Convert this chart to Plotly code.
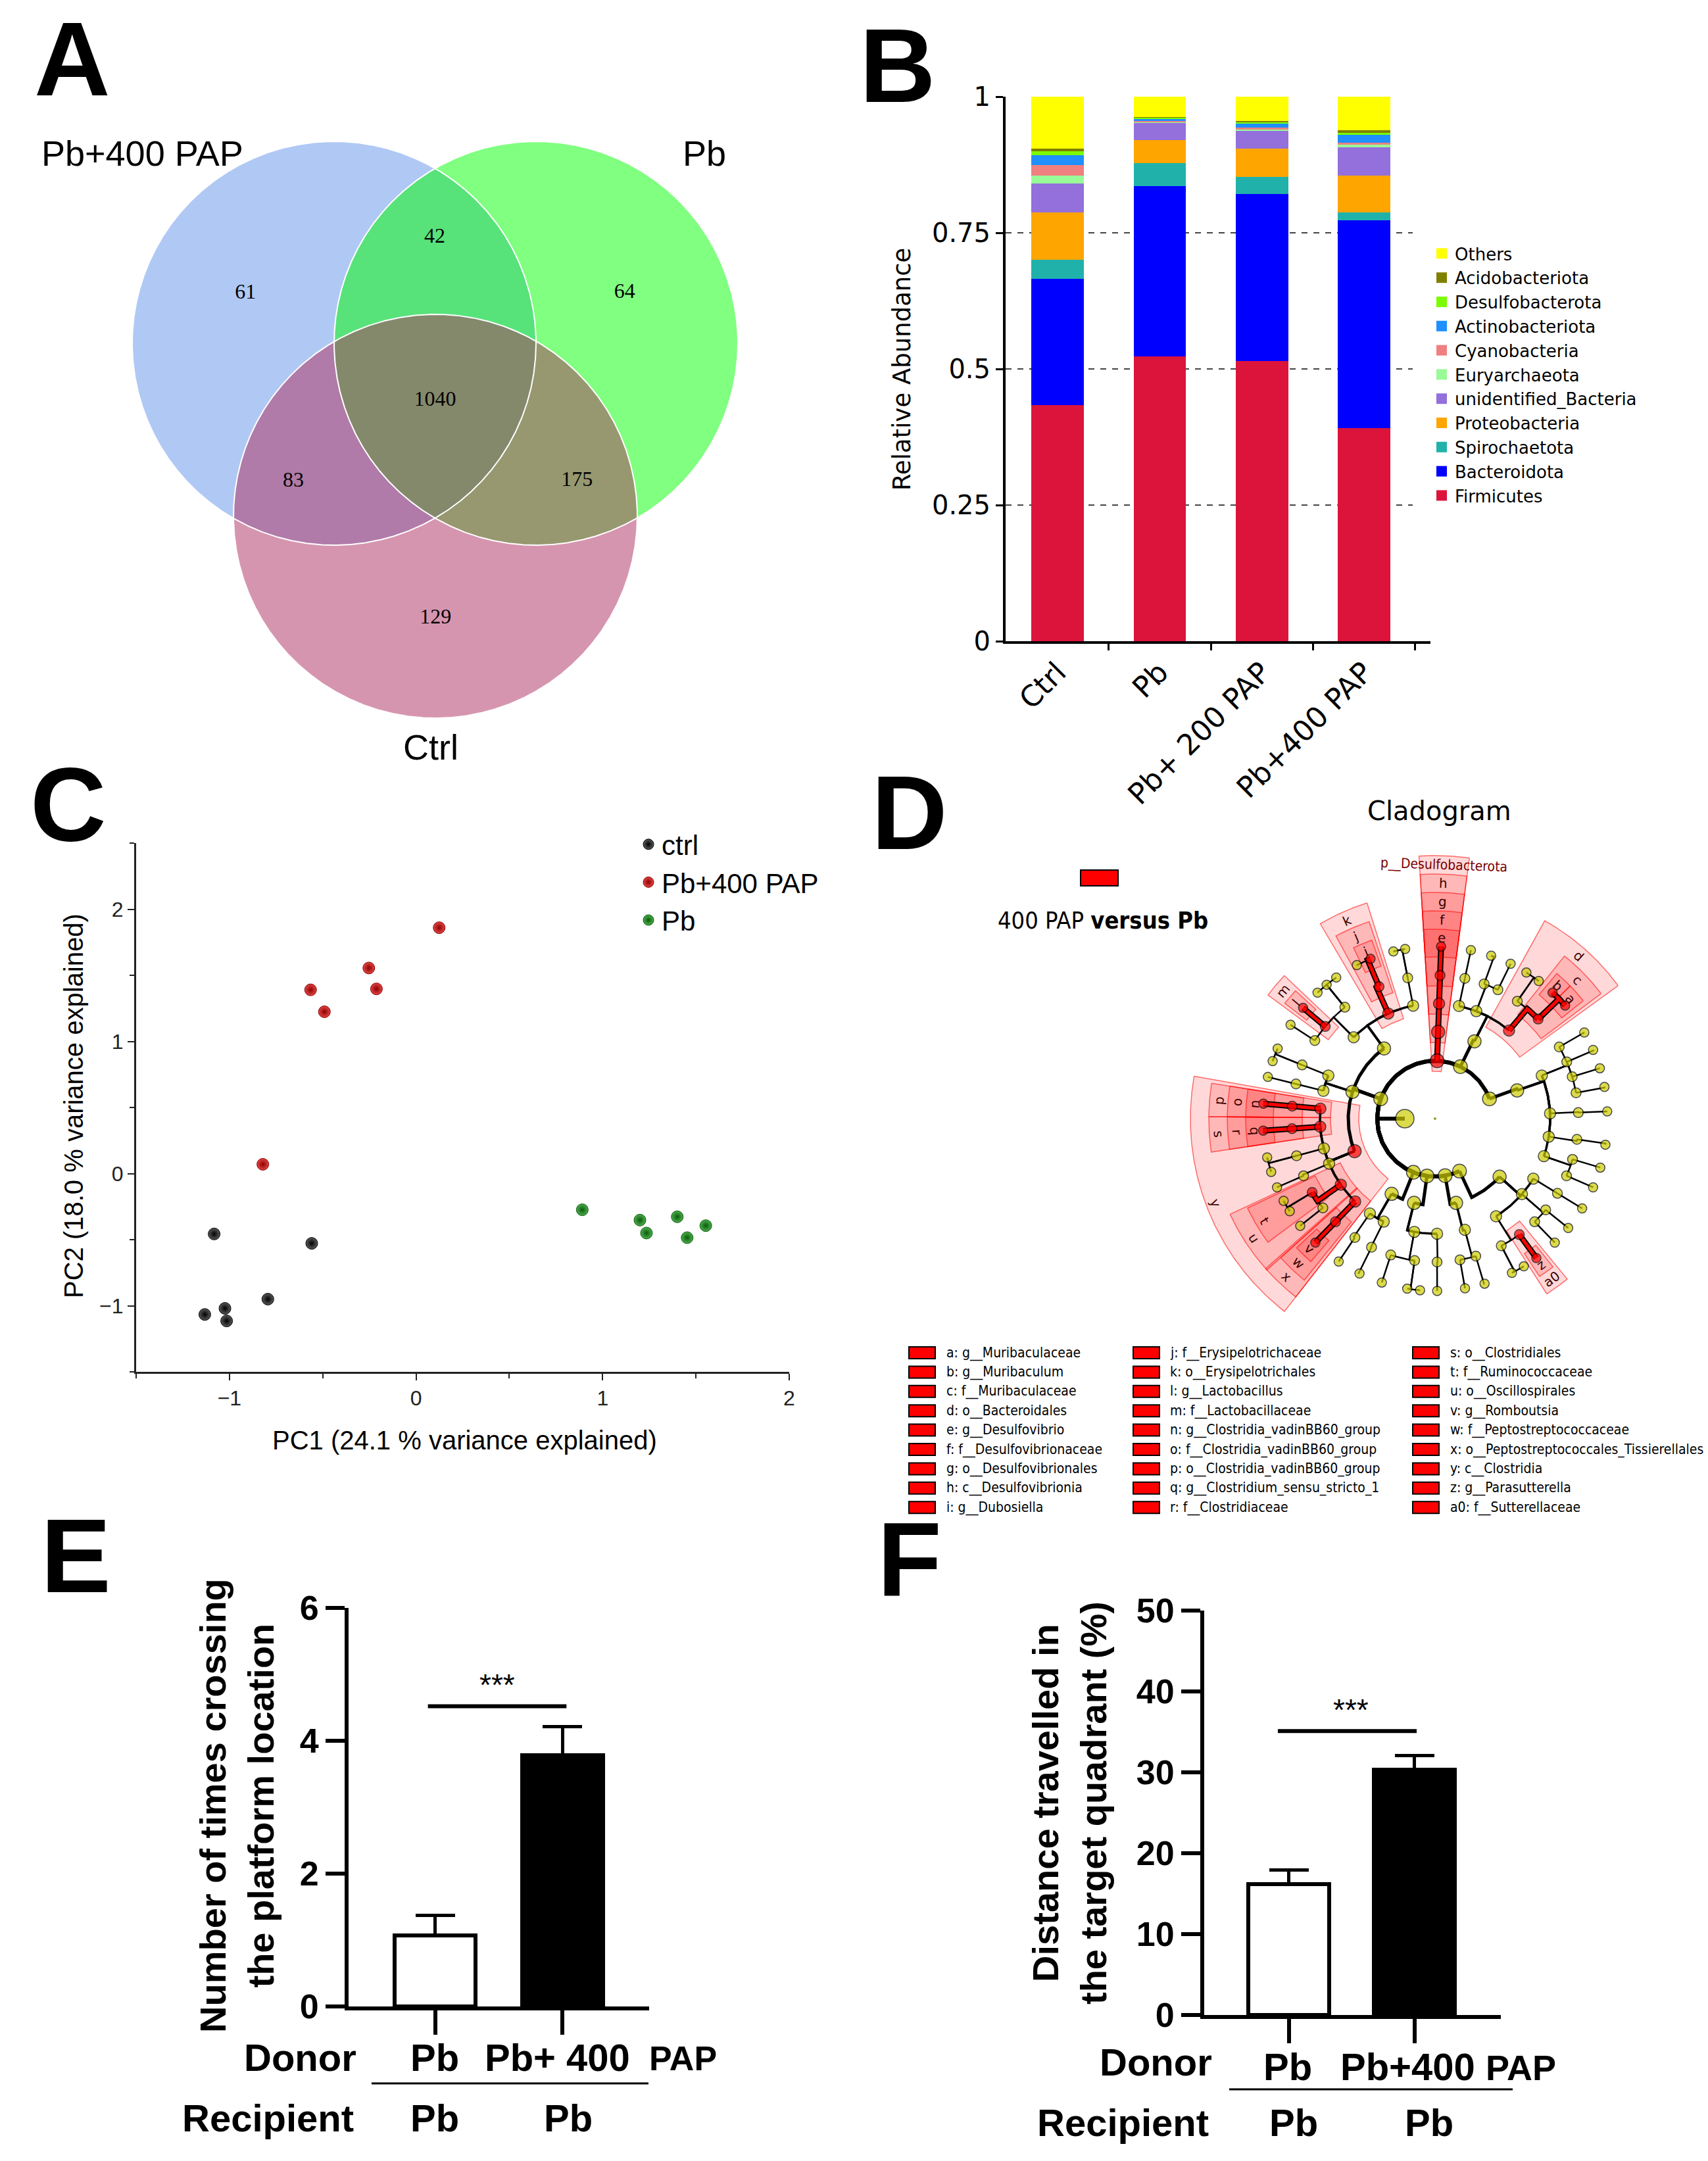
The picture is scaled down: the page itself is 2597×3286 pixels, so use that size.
import numpy as np
import plotly.graph_objects as go

W, H = 2597, 3286
ARIAL = "Liberation Sans, Arial, sans-serif"
DEJAVU = "DejaVu Sans, Verdana, sans-serif"
NARROW = "Liberation Sans Narrow, DejaVu Sans Condensed, Liberation Sans, sans-serif"
TIMES = "Liberation Serif, Times New Roman, serif"

# ======================= DATA =======================
# --- A: Venn ---
VENN_SET_NAMES = ["Pb+400 PAP", "Pb", "Ctrl"]
VENN_REGIONS = ["100", "010", "001", "110", "101", "011", "111"]
VENN_COUNTS = [61, 64, 129, 42, 83, 175, 1040]

# --- B: relative abundance (phylum) ---
B_GROUPS = ["Ctrl", "Pb", "Pb+ 200 PAP", "Pb+400 PAP"]
PHYLA = ["Firmicutes", "Bacteroidota", "Spirochaetota", "Proteobacteria",
         "unidentified_Bacteria", "Euryarchaeota", "Cyanobacteria",
         "Actinobacteriota", "Desulfobacterota", "Acidobacteriota", "Others"]
FIRMICUTES = [0.434, 0.523, 0.515, 0.391]
BACTEROIDOTA = [0.232, 0.313, 0.306, 0.382]
SPIROCHAETOTA = [0.034, 0.042, 0.032, 0.015]
PROTEOBACTERIA = [0.087, 0.042, 0.051, 0.067]
UNIDENTIFIED_BACTERIA = [0.054, 0.032, 0.034, 0.052]
EURYARCHAEOTA = [0.014, 0.002, 0.002, 0.005]
CYANOBACTERIA = [0.019, 0.001, 0.003, 0.004]
ACTINOBACTERIOTA = [0.019, 0.005, 0.008, 0.014]
DESULFOBACTEROTA = [0.007, 0.002, 0.002, 0.004]
ACIDOBACTERIOTA = [0.005, 0.001, 0.002, 0.005]
OTHERS = [0.095, 0.037, 0.045, 0.061]
B_VALUES = [FIRMICUTES, BACTEROIDOTA, SPIROCHAETOTA, PROTEOBACTERIA,
            UNIDENTIFIED_BACTERIA, EURYARCHAEOTA, CYANOBACTERIA,
            ACTINOBACTERIOTA, DESULFOBACTEROTA, ACIDOBACTERIOTA, OTHERS]
B_TICKS = [0, 0.25, 0.5, 0.75, 1]
B_TICKTEXT = ["0", "0.25", "0.5", "0.75", "1"]
B_GRID = [0.25, 0.5, 0.75]

# --- C: PCA ---
C_NAMES = ["ctrl", "Pb+400 PAP", "Pb"]
C_CTRL_X = [-1.082, -0.559, -0.794, -1.132, -1.024, -1.015]
C_CTRL_Y = [-0.457, -0.528, -0.950, -1.066, -1.020, -1.115]
C_PAP_X = [0.124, -0.253, -0.212, -0.565, -0.491, -0.821]
C_PAP_Y = [1.860, 1.555, 1.397, 1.390, 1.224, 0.070]
C_PB_X = [0.891, 1.200, 1.235, 1.400, 1.553, 1.453]
C_PB_Y = [-0.274, -0.352, -0.450, -0.327, -0.394, -0.485]
C_XTICKS = [-1, 0, 1, 2]
C_YTICKS = [-1, 0, 1, 2]

# --- D: LEfSe cladogram (key, parent, level, angle_deg, significant) ---
TREE_ROOT = [("k__Bacteria", None, 1, 180, 0)]
TREE_DESULFO = [
    ("p__Desulfobacterota", "k__Bacteria", 2, 88, 1),
    ("h", "p__Desulfobacterota", 3, 88, 1),
    ("g", "h", 4, 88, 1),
    ("f", "g", 5, 88, 1),
    ("e", "f", 6, 88, 1)]
TREE_BACTEROIDOTA = [
    ("p_bac", "k__Bacteria", 2, 64, 0),
    ("c_bac", "p_bac", 3, 63, 0),
    ("d", "c_bac", 4, 50, 1),
    ("c", "d", 5, 44, 1),
    ("a", "c", 6, 41, 1),
    ("b", "c", 6, 47, 1),
    ("f_bac2", "d", 5, 55, 0),
    ("g_bac2a", "f_bac2", 6, 53, 0),
    ("g_bac2b", "f_bac2", 6, 58, 0),
    ("o_bac2", "c_bac", 4, 69, 0),
    ("f_bac3", "o_bac2", 5, 64, 0),
    ("g_bac3", "f_bac3", 6, 64, 0),
    ("f_bac4", "o_bac2", 5, 70, 0),
    ("g_bac4", "f_bac4", 6, 71, 0),
    ("o_bac3", "c_bac", 4, 78, 0),
    ("f_bac5", "o_bac3", 5, 78, 0),
    ("g_bac5", "f_bac5", 6, 78, 0)]
TREE_FIRMICUTES = [
    ("p_fir", "k__Bacteria", 2, 160, 0),
    ("c_bacilli", "p_fir", 3, 126, 0),
    ("o_fir1", "c_bacilli", 4, 101, 0),
    ("f_fir1", "o_fir1", 5, 101, 0),
    ("g_fir1a", "f_fir1", 6, 100, 0),
    ("g_fir1b", "f_fir1", 6, 104, 0),
    ("k", "c_bacilli", 4, 114, 1),
    ("j", "k", 5, 113, 1),
    ("i", "j", 6, 112, 1),
    ("g_ery", "j", 6, 117, 0),
    ("o_lac", "c_bacilli", 4, 135, 0),
    ("f_lac2", "o_lac", 5, 129, 0),
    ("g_lac2a", "f_lac2", 6, 125, 0),
    ("g_lac2b", "f_lac2", 6, 129, 0),
    ("g_lac2c", "f_lac2", 6, 133, 0),
    ("m", "o_lac", 5, 140, 1),
    ("l", "m", 6, 140, 1),
    ("f_lac3", "o_lac", 5, 147, 0),
    ("g_lac3", "f_lac3", 6, 147, 0),
    ("c_fir2", "p_fir", 3, 162, 0),
    ("o_fir2", "c_fir2", 4, 158, 0),
    ("f_fir2", "o_fir2", 5, 158, 0),
    ("g_fir2a", "f_fir2", 6, 156, 0),
    ("g_fir2b", "f_fir2", 6, 160.5, 0),
    ("o_fir3", "c_fir2", 4, 166, 0),
    ("f_fir3", "o_fir3", 5, 166, 0),
    ("g_fir3", "f_fir3", 6, 166, 0),
    ("y", "p_fir", 3, 202, 1),
    ("p", "y", 4, 175, 1),
    ("o", "p", 5, 175, 1),
    ("n", "o", 6, 175, 1),
    ("s", "y", 4, 184, 1),
    ("r", "s", 5, 184, 1),
    ("q", "r", 6, 184, 1),
    ("o_cl3", "y", 4, 195, 0),
    ("f_cl3", "o_cl3", 5, 195, 0),
    ("g_cl3a", "f_cl3", 6, 193, 0),
    ("g_cl3b", "f_cl3", 6, 198, 0),
    ("o_cl4", "y", 4, 203, 0),
    ("f_cl4", "o_cl4", 5, 203.5, 0),
    ("g_cl4", "f_cl4", 6, 203.5, 0),
    ("u", "y", 4, 215, 1),
    ("t", "u", 5, 211, 1),
    ("g_t1", "t", 6, 208.5, 0),
    ("g_t2", "t", 6, 212.5, 0),
    ("f_osc", "u", 5, 218.5, 0),
    ("g_osc", "f_osc", 6, 218.5, 0),
    ("x", "y", 4, 226, 1),
    ("w", "x", 5, 226, 1),
    ("v", "w", 6, 226, 1)]
TREE_BOTTOM = [
    ("p_spi", "k__Bacteria", 2, 248, 0),
    ("c_spi", "p_spi", 3, 240, 0),
    ("o_spi1", "c_spi", 4, 235.5, 0),
    ("f_spi1", "o_spi1", 5, 236, 0),
    ("g_spi1", "f_spi1", 6, 236, 0),
    ("o_spi2", "c_spi", 4, 243.5, 0),
    ("f_spi2", "o_spi2", 5, 243.7, 0),
    ("g_spi2", "f_spi2", 6, 244, 0),
    ("p_cam", "k__Bacteria", 2, 262, 0),
    ("c_cam", "p_cam", 3, 256, 0),
    ("o_cam1", "c_cam", 4, 259.6, 0),
    ("f_cam1", "o_cam1", 5, 252, 0),
    ("g_cam1", "f_cam1", 6, 252, 0),
    ("f_cam2", "o_cam1", 5, 261.8, 0),
    ("g_cam2a", "f_cam2", 6, 260.7, 0),
    ("g_cam2b", "f_cam2", 6, 265, 0),
    ("o_cam2", "c_cam", 4, 271, 0),
    ("f_cam3", "o_cam2", 5, 270.8, 0),
    ("g_cam3", "f_cam3", 6, 270.7, 0),
    ("p_cya", "k__Bacteria", 2, 280, 0),
    ("c_cya", "p_cya", 3, 284, 0),
    ("o_cya", "c_cya", 4, 285, 0),
    ("f_cya1", "o_cya", 5, 280, 0),
    ("g_cya1", "f_cya1", 6, 280, 0),
    ("f_cya2", "o_cya", 5, 286.5, 0),
    ("g_cya2", "f_cya2", 6, 286.7, 0)]
TREE_PROTEO = [
    ("p_pro", "k__Bacteria", 2, 295, 0),
    ("c_pro", "p_pro", 3, 318, 0),
    ("o_pro1", "c_pro", 4, 302, 0),
    ("f_pro1", "o_pro1", 5, 297.5, 0),
    ("g_pro1a", "f_pro1", 6, 296.5, 0),
    ("g_pro1b", "f_pro1", 6, 301, 0),
    ("a0", "o_pro1", 5, 306, 1),
    ("z", "a0", 6, 306, 1),
    ("o_pro2", "c_pro", 4, 319, 0),
    ("f_pro2", "o_pro2", 5, 314, 0),
    ("g_pro2", "f_pro2", 6, 314, 0),
    ("f_pro3", "o_pro2", 5, 320.5, 0),
    ("g_pro3", "f_pro3", 6, 320.6, 0),
    ("o_pro3", "c_pro", 4, 328.6, 0),
    ("f_pro4", "o_pro3", 5, 328.6, 0),
    ("g_pro4", "f_pro4", 6, 328.6, 0)]
TREE_ACTINO = [
    ("p_act", "k__Bacteria", 2, 20, 0),
    ("c_act", "p_act", 3, 19, 0),
    ("o_act1", "c_act", 4, 22, 0),
    ("f_act1", "o_act1", 5, 30, 0),
    ("g_act1", "f_act1", 6, 30, 0),
    ("f_act2", "o_act1", 5, 23.3, 0),
    ("g_act2", "f_act2", 6, 23.5, 0),
    ("f_act3", "o_act1", 5, 17, 0),
    ("g_act3", "f_act3", 6, 17, 0),
    ("f_act4", "o_act1", 5, 10.4, 0),
    ("g_act4", "f_act4", 6, 10.6, 0),
    ("o_act2", "c_act", 4, 2.6, 0),
    ("f_act5", "o_act2", 5, 2.4, 0),
    ("g_act5", "f_act5", 6, 2.4, 0),
    ("o_act3", "c_act", 4, -9, 0),
    ("f_act6", "o_act3", 5, -8.3, 0),
    ("g_act6", "f_act6", 6, -8.7, 0),
    ("o_act4", "c_act", 4, -19, 0),
    ("f_act7", "o_act4", 5, -16.5, 0),
    ("g_act7", "f_act7", 6, -16.5, 0),
    ("f_act8", "o_act4", 5, -23.5, 0),
    ("g_act8", "f_act8", 6, -23.5, 0)]

# highlighted clades: key, angular extent (deg)
WEDGE_KEYS = ["p__Desulfobacterota", "h", "g", "f", "e",
              "d", "c", "b", "a", "k", "j", "i", "m", "l",
              "y", "p", "o", "n", "s", "r", "q", "u", "t", "x", "w", "v", "a0", "z"]
WEDGE_FROM = [82.5, 82.5, 82.5, 82.5, 82.5,
              36, 37, 44.5, 38.5, 107.5, 108.5, 109.5, 136.5, 137.5,
              170, 171, 171, 171, 179.5, 179.5, 179.5, 205, 205.5, 221.5, 222, 223, 302.5, 303.5]
WEDGE_TO = [93.5, 93.5, 93.5, 93.5, 93.5,
            61, 51.5, 50, 44.5, 120.5, 118.5, 115.5, 143.5, 142.5,
            232, 179.5, 179.5, 179.5, 188.5, 188.5, 188.5, 222, 216.5, 232, 231, 229, 309.5, 308.5]

D_LEGEND = ["a: g__Muribaculaceae", "b: g__Muribaculum", "c: f__Muribaculaceae",
            "d: o__Bacteroidales", "e: g__Desulfovibrio", "f: f__Desulfovibrionaceae",
            "g: o__Desulfovibrionales", "h: c__Desulfovibrionia", "i: g__Dubosiella",
            "j: f__Erysipelotrichaceae", "k: o__Erysipelotrichales", "l: g__Lactobacillus",
            "m: f__Lactobacillaceae", "n: g__Clostridia_vadinBB60_group",
            "o: f__Clostridia_vadinBB60_group", "p: o__Clostridia_vadinBB60_group",
            "q: g__Clostridium_sensu_stricto_1", "r: f__Clostridiaceae",
            "s: o__Clostridiales", "t: f__Ruminococcaceae", "u: o__Oscillospirales",
            "v: g__Romboutsia", "w: f__Peptostreptococcaceae",
            "x: o__Peptostreptococcales_Tissierellales", "y: c__Clostridia",
            "z: g__Parasutterella", "a0: f__Sutterellaceae"]

# --- E / F: behaviour ---
EF_GROUPS = ["Pb", "Pb+400 PAP"]
E_MEANS = [1.07, 3.78]
E_SEM = [0.30, 0.43]
E_YTICKS = [0, 2, 4, 6]
F_MEANS = [16.2, 30.3]
F_SEM = [1.7, 1.8]
F_YTICKS = [0, 10, 20, 30, 40, 50]

# ======================= STYLE / LAYOUT HELPERS =======================
PHYLA_COLORS = ["#DC143C", "#0000FF", "#20B2AA", "#FFA500", "#9370DB", "#98FB98",
                "#F08080", "#1E90FF", "#7CFC00", "#808000", "#FFFF00"]

fig = go.Figure()
layout = dict(width=W, height=H,
              margin=dict(l=0, r=0, t=0, b=0, pad=0, autoexpand=False),
              paper_bgcolor="white", plot_bgcolor="white", barmode="stack",
              showlegend=True)
annotations = []
shapes = []


def PX(x):
    return x / W


def PY(y):
    return 1 - y / H


def ann(x, y, text, size, family=ARIAL, angle=0, xanchor="center", yanchor="middle",
        color="black"):
    annotations.append(dict(x=PX(x), y=PY(y), xref="paper", yref="paper", text=text,
                            showarrow=False, textangle=angle, xanchor=xanchor,
                            yanchor=yanchor, font=dict(size=size, family=family, color=color)))


def pix_axes(n, x0, x1, y0, y1):
    sx = "" if n == 1 else str(n)
    layout["xaxis" + sx] = dict(domain=[x0 / W, x1 / W], range=[x0, x1], visible=False,
                                fixedrange=True, anchor="y" + sx)
    layout["yaxis" + sx] = dict(domain=[1 - y1 / H, 1 - y0 / H], range=[y1, y0],
                                visible=False, fixedrange=True, anchor="x" + sx)


# ======================= PANEL A : Venn =======================
pix_axes(1, 0, 1300, 0, 1150)
VENN_CX = [508, 815, 662]
VENN_CY = [522, 522, 785]
VENN_R = 307
VENN_FILL = ["#B0C8F4", "#80FF80", "#D695AE"]
PAIR_FILL = {(0, 1): "#58E27A", (0, 2): "#B07BA8", (1, 2): "#979870"}
TRIPLE_FILL = "#85896C"
tt = np.linspace(0, 2 * np.pi, 1441)


def circ(i):
    return VENN_CX[i] + VENN_R * np.cos(tt), VENN_CY[i] + VENN_R * np.sin(tt)


def inside(x, y, i):
    return (x - VENN_CX[i]) ** 2 + (y - VENN_CY[i]) ** 2 <= VENN_R ** 2 + 1e-6


def inter_poly(idx):
    xs, ys = [], []
    for i in idx:
        cx, cy = circ(i)
        m = np.ones_like(cx, dtype=bool)
        for j in idx:
            if j != i:
                m &= inside(cx, cy, j)
        xs.append(cx[m]); ys.append(cy[m])
    xs = np.concatenate(xs); ys = np.concatenate(ys)
    o = np.argsort(np.arctan2(ys - ys.mean(), xs - xs.mean()))
    return np.r_[xs[o], xs[o][0]], np.r_[ys[o], ys[o][0]]


def filled(x, y, color, xa="x", ya="y", lw=0, lc=None):
    return go.Scatter(x=x, y=y, mode="lines", fill="toself", fillcolor=color,
                      line=dict(width=lw, color=lc or color), xaxis=xa, yaxis=ya,
                      hoverinfo="skip", showlegend=False)


for i in range(3):
    cx, cy = circ(i)
    fig.add_trace(filled(cx, cy, VENN_FILL[i]))
for pair, col in PAIR_FILL.items():
    px_, py_ = inter_poly(pair)
    fig.add_trace(filled(px_, py_, col))
px_, py_ = inter_poly((0, 1, 2))
fig.add_trace(filled(px_, py_, TRIPLE_FILL))
for i in range(3):
    cx, cy = circ(i)
    fig.add_trace(go.Scatter(x=cx, y=cy, mode="lines", line=dict(color="white", width=2),
                             xaxis="x", yaxis="y", hoverinfo="skip", showlegend=False))

# region label positions, derived from the circle geometry
gx, gy = np.meshgrid(np.arange(150, 1180, 3.0), np.arange(180, 1110, 3.0))
mem = [inside(gx, gy, i) for i in range(3)]
tri = mem[0] & mem[1] & mem[2]
TX, TY = gx[tri].mean(), gy[tri].mean()
SINGLE_OFF, PAIR_OFF = 155.0, 248.0
lab_x, lab_y = [], []
for code in VENN_REGIONS:
    ins = [k for k, ch in enumerate(code) if ch == "1"]
    if len(ins) == 3:
        lx, ly = TX, TY
    elif len(ins) == 1:
        k = ins[0]
        vx, vy = VENN_CX[k] - TX, VENN_CY[k] - TY
        nrm = np.hypot(vx, vy)
        lx, ly = VENN_CX[k] + SINGLE_OFF * vx / nrm, VENN_CY[k] + SINGLE_OFF * vy / nrm
    else:
        k = [q for q in range(3) if q not in ins][0]
        vx, vy = TX - VENN_CX[k], TY - VENN_CY[k]
        nrm = np.hypot(vx, vy)
        lx, ly = TX + PAIR_OFF * vx / nrm, TY + PAIR_OFF * vy / nrm
    lab_x.append(lx); lab_y.append(ly)
fig.add_trace(go.Scatter(x=lab_x, y=lab_y, mode="text", text=[str(c) for c in VENN_COUNTS],
                         textfont=dict(family=TIMES, size=32, color="black"),
                         xaxis="x", yaxis="y", hoverinfo="skip", showlegend=False,
                         cliponaxis=False))
ann(216, 233, VENN_SET_NAMES[0], 54)
ann(1071, 233, VENN_SET_NAMES[1], 54)
ann(655, 1136, VENN_SET_NAMES[2], 54)

# ======================= PANEL B : stacked bars =======================
B_X = list(range(len(B_GROUPS)))
for name, vals, col in zip(PHYLA, B_VALUES, PHYLA_COLORS):
    fig.add_trace(go.Bar(x=B_X, y=vals, width=0.515, marker=dict(color=col, line=dict(width=0)),
                         name=name, xaxis="x2", yaxis="y2", showlegend=False))
for name, col in zip(PHYLA[::-1], PHYLA_COLORS[::-1]):
    fig.add_trace(go.Scatter(x=[None], y=[None], mode="markers", name=name,
                             marker=dict(symbol="square", size=16, color=col),
                             xaxis="x2", yaxis="y2", legend="legend"))
layout["xaxis2"] = dict(domain=[1529 / W, 2175 / W], range=[-0.51, 3.65], anchor="y2",
                        showline=True, linewidth=4, linecolor="black", showgrid=False,
                        zeroline=False, tickmode="array", tickvals=B_X, ticktext=B_GROUPS,
                        ticks="", tickangle=-45, tickfont=dict(family=DEJAVU, size=44, color="black"),
                        minor=dict(tickmode="array", tickvals=[x + 0.5 for x in B_X],
                                   ticks="outside", ticklen=10, tickwidth=3, tickcolor="black",
                                   showgrid=False),
                        fixedrange=True)
layout["yaxis2"] = dict(domain=[1 - 975 / H, 1 - 147 / H], range=[0, 1], anchor="x2",
                        showline=True, linewidth=4, linecolor="black", showgrid=False,
                        zeroline=False, tickmode="array", tickvals=B_TICKS, ticktext=B_TICKTEXT,
                        ticks="outside", ticklen=11, tickwidth=3, tickcolor="black",
                        tickfont=dict(family=DEJAVU, size=40, color="black"), fixedrange=True)
for gv in B_GRID:
    shapes.append(dict(type="line", xref="x2 domain", yref="y2", x0=0, x1=(2148 - 1529) / (2175 - 1529),
                       y0=gv, y1=gv, line=dict(color="#444444", width=2, dash="dash"), layer="below"))
ann(1371, 562, "Relative Abundance", 37, family=DEJAVU, angle=-90)
layout["legend"] = dict(x=PX(2172), y=PY(362), xanchor="left", yanchor="top",
                        traceorder="normal",
                        font=dict(family=DEJAVU, size=26, color="black"), bgcolor="rgba(0,0,0,0)",
                        tracegroupgap=0, itemclick=False, itemdoubleclick=False)

# ======================= PANEL C : PCA =======================
C_STYLE = [("#5a5a5a", "#000000"), ("#E24545", "#8E0000"), ("#4DAF4D", "#0B5A0B")]
for name, xs, ys, (c1, c2) in zip(C_NAMES, [C_CTRL_X, C_PAP_X, C_PB_X],
                                  [C_CTRL_Y, C_PAP_Y, C_PB_Y], C_STYLE):
    fig.add_trace(go.Scatter(x=xs, y=ys, mode="markers", name=name,
                             marker=dict(size=18, color=c1, gradient=dict(type="radial", color=c2),
                                         line=dict(width=1, color=c2)),
                             xaxis="x3", yaxis="y3", legend="legend2"))
layout["xaxis3"] = dict(domain=[207 / W, 1200 / W], range=[-1.5, 2], anchor="y3",
                        showline=True, linewidth=3, linecolor="#222222", showgrid=False,
                        zeroline=False, tickmode="array", tickvals=C_XTICKS, ticks="outside",
                        ticklen=10, tickwidth=2, tickcolor="#222222",
                        tickfont=dict(family=ARIAL, size=32, color="#222222"),
                        minor=dict(dtick=0.5, tick0=-1.5, ticks="outside", ticklen=7, tickwidth=2,
                                   tickcolor="#222222", showgrid=False), fixedrange=True)
layout["yaxis3"] = dict(domain=[1 - 2086 / H, 1 - 1282 / H], range=[-1.5, 2.5], anchor="x3",
                        showline=True, linewidth=3, linecolor="#222222", showgrid=False,
                        zeroline=False, tickmode="array", tickvals=C_YTICKS, ticks="outside",
                        ticklen=10, tickwidth=2, tickcolor="#222222",
                        tickfont=dict(family=ARIAL, size=32, color="#222222"),
                        minor=dict(dtick=0.5, tick0=-1.5, ticks="outside", ticklen=7, tickwidth=2,
                                   tickcolor="#222222", showgrid=False), fixedrange=True)
ann(706, 2190, "PC1 (24.1 % variance explained)", 40)
ann(112, 1682, "PC2 (18.0 % variance explained)", 40, angle=-90)
layout["legend2"] = dict(x=PX(966), y=PY(1250), xanchor="left", yanchor="top",
                         traceorder="normal",
                         font=dict(family=ARIAL, size=42, color="black"), bgcolor="rgba(0,0,0,0)",
                         tracegroupgap=0, itemclick=False, itemdoubleclick=False)

# ======================= PANEL D : cladogram =======================
pix_axes(4, 1300, 2597, 1150, 2340)
CXD, CYD = 2182, 1701
LEVEL_R = {1: 46, 2: 88, 3: 132, 4: 175, 5: 218, 6: 262}
LEVEL_OUT = {2: 400, 3: 372, 4: 344, 5: 316, 6: 288}
LEVEL_LAB = {2: 386, 3: 358, 4: 330, 5: 302, 6: 275}
NODE_SIZE = {1: 28, 2: 21, 3: 20, 4: 17, 5: 15, 6: 14}
EDGE_W = {2: 6, 3: 5, 4: 3.5, 5: 2.5, 6: 2.5}

nodes = {}
for lst in [TREE_ROOT, TREE_DESULFO, TREE_BACTEROIDOTA, TREE_FIRMICUTES, TREE_BOTTOM,
            TREE_PROTEO, TREE_ACTINO]:
    for key, parent, lev, ang, sig in lst:
        nodes[key] = (parent, lev, ang, sig)


def pol(r, a):
    a = np.deg2rad(np.asarray(a, dtype=float))
    return CXD + r * np.cos(a), CYD - r * np.sin(a)


# wedges (drawn first, underneath)
for key, a0, a1 in zip(WEDGE_KEYS, WEDGE_FROM, WEDGE_TO):
    lev = nodes[key][1]
    r0, r1 = LEVEL_R[lev] - 16, LEVEL_OUT[lev]
    aa = np.linspace(a0, a1, int(abs(a1 - a0) * 2) + 3)
    xo, yo = pol(r1, aa)
    xi, yi = pol(r0, aa[::-1])
    fig.add_trace(filled(np.r_[xo, xi, xo[0]], np.r_[yo, yi, yo[0]], "rgba(255,0,0,0.15)",
                         xa="x4", ya="y4", lw=1.5, lc="rgba(255,0,0,0.55)"))
    mid = 0.5 * (a0 + a1)
    lx, ly = pol(LEVEL_LAB[lev], mid)
    ang = -mid + 90
    while ang > 90:
        ang -= 180
    while ang <= -90:
        ang += 180
    if lev == 2:
        annotations.append(dict(x=float(lx), y=float(ly), xref="x4", yref="y4", text=key,
                                showarrow=False, textangle=ang,
                                font=dict(family=NARROW, size=21, color="#7a0000")))
    else:
        annotations.append(dict(x=float(lx), y=float(ly), xref="x4", yref="y4", text=key,
                                showarrow=False, textangle=ang,
                                font=dict(family=DEJAVU, size=20, color="#3a0000")))

# edges
edge_groups = {}
sig_x, sig_y = [], []
for key, (parent, lev, ang, sig) in nodes.items():
    if parent is None:
        continue
    pp, plev, pang, psig = nodes[parent]
    rp, rc = LEVEL_R[plev], LEVEL_R[lev]
    n = int(abs(ang - pang)) + 2
    aa = np.r_[pang, np.linspace(pang, ang, n)]
    rr = np.r_[rp, np.full(n, rc)]
    ex, ey = pol(rr, aa)
    if sig and psig and abs(ang - pang) <= 10:
        sig_x += list(ex) + [None]; sig_y += list(ey) + [None]
    else:
        gx_, gy_ = edge_groups.setdefault(EDGE_W[lev], ([], []))
        gx_ += list(ex) + [None]; gy_ += list(ey) + [None]
for w_, (ex, ey) in edge_groups.items():
    fig.add_trace(go.Scatter(x=ex, y=ey, mode="lines", line=dict(color="black", width=w_),
                             xaxis="x4", yaxis="y4", hoverinfo="skip", showlegend=False))
fig.add_trace(go.Scatter(x=sig_x, y=sig_y, mode="lines", line=dict(color="black", width=9),
                         xaxis="x4", yaxis="y4", hoverinfo="skip", showlegend=False))
fig.add_trace(go.Scatter(x=sig_x, y=sig_y, mode="lines", line=dict(color="#FF0000", width=5),
                         xaxis="x4", yaxis="y4", hoverinfo="skip", showlegend=False))
# nodes
for flag, col in [(0, "#CCCC00"), (1, "#FF0000")]:
    ks = [k for k, v in nodes.items() if v[3] == flag]
    nx, ny = pol(np.array([LEVEL_R[nodes[k][1]] for k in ks]), [nodes[k][2] for k in ks])
    fig.add_trace(go.Scatter(x=nx, y=ny, mode="markers",
                             marker=dict(size=[NODE_SIZE[nodes[k][1]] for k in ks], color=col,
                                         line=dict(color="black", width=1.5)),
                             xaxis="x4", yaxis="y4", hoverinfo="skip", showlegend=False))
fig.add_trace(go.Scatter(x=[CXD], y=[CYD], mode="markers", marker=dict(size=4, color="#9a9a30"),
                         xaxis="x4", yaxis="y4", hoverinfo="skip", showlegend=False))

ann(2188, 1233, "Cladogram", 40, family=DEJAVU)
shapes.append(dict(type="rect", xref="x4", yref="y4", x0=1643, x1=1700, y0=1323, y1=1347,
                   fillcolor="#FF0000", line=dict(color="black", width=2)))
ann(1677, 1399, "400 PAP <b>versus Pb</b>", 36, family=NARROW)

# cladogram legend
COL_BOX_X = [1382, 1723, 2148]
COL_TXT_X = [1437, 1777, 2203]
for idx, txt in enumerate(D_LEGEND):
    col, row = idx // 9, idx % 9
    yc = 2057 + row * 29.4
    shapes.append(dict(type="rect", xref="x4", yref="y4", x0=COL_BOX_X[col], x1=COL_BOX_X[col] + 40,
                       y0=yc - 9, y1=yc + 9, fillcolor="#FF0000", line=dict(color="black", width=2)))
    ann(COL_TXT_X[col], yc, txt, 21, family=NARROW, xanchor="left")

# ======================= PANELS E & F : bars =======================
def behaviour_panel(n, means, sems, ticks, x0, x1, y0, y1, xr, bw):
    sx = str(n)
    fig.add_trace(go.Bar(x=[0, 1], y=means, width=bw, name="bars" + sx,
                         marker=dict(color=["white", "black"], line=dict(color="black", width=6)),
                         error_y=dict(type="data", array=sems, arrayminus=[0, 0], symmetric=False,
                                      thickness=5, width=30, color="black"),
                         xaxis="x" + sx, yaxis="y" + sx, showlegend=False))
    layout["xaxis" + sx] = dict(domain=[x0 / W, x1 / W], range=xr, anchor="y" + sx,
                                showline=True, linewidth=6, linecolor="black", showgrid=False,
                                zeroline=False, tickmode="array", tickvals=[0, 1],
                                showticklabels=False, ticks="outside", ticklen=37, tickwidth=6,
                                tickcolor="black", fixedrange=True)
    layout["yaxis" + sx] = dict(domain=[1 - y1 / H, 1 - y0 / H], range=[ticks[0], ticks[-1]],
                                anchor="x" + sx, showline=True, linewidth=6, linecolor="black",
                                showgrid=False, zeroline=False, tickmode="array", tickvals=ticks,
                                ticks="outside", ticklen=29, tickwidth=6, tickcolor="black",
                                tickfont=dict(family=ARIAL, size=52, color="black", weight="bold"),
                                fixedrange=True)


behaviour_panel(5, E_MEANS, E_SEM, E_YTICKS, 530, 987, 2445, 3051, [-0.680, 1.680], 0.634)
behaviour_panel(6, F_MEANS, F_SEM, F_YTICKS, 1831, 2282, 2449, 3064, [-0.675, 1.686], 0.644)

# significance bars
shapes.append(dict(type="line", xref="x5", yref="y5", x0=-0.057, x1=1.031, y0=4.52, y1=4.52,
                   line=dict(color="black", width=6)))
annotations.append(dict(x=0.487, y=4.52, xref="x5", yref="y5", text="***", showarrow=False,
                        yanchor="bottom", yshift=4, font=dict(family=ARIAL, size=46, color="black")))
shapes.append(dict(type="line", xref="x6", yref="y6", x0=-0.089, x1=1.016, y0=35.1, y1=35.1,
                   line=dict(color="black", width=6)))
annotations.append(dict(x=0.49, y=35.1, xref="x6", yref="y6", text="***", showarrow=False,
                        yanchor="bottom", yshift=4, font=dict(family=ARIAL, size=46, color="black")))

# axis titles
ann(360, 2746, "<b>Number of times crossing<br>the platform location</b>", 56, angle=-90)
ann(1626, 2742, "<b>Distance travelled in<br>the target quadrant (%)</b>", 56, angle=-90)

# donor / recipient rows
ann(456, 3128, "<b>Donor</b>", 58)
ann(661, 3128, "<b>" + EF_GROUPS[0] + "</b>", 58)
ann(848, 3128, "<b>Pb+ 400</b>", 58)
ann(1038, 3130, "<b>PAP</b>", 52)
shapes.append(dict(type="line", xref="paper", yref="paper", x0=PX(565), x1=PX(986),
                   y0=PY(3168), y1=PY(3168), line=dict(color="black", width=3)))
ann(407, 3220, "<b>Recipient</b>", 58)
ann(661, 3220, "<b>Pb</b>", 58)
ann(864, 3220, "<b>Pb</b>", 58)

ann(1757, 3135, "<b>Donor</b>", 58)
ann(1958, 3142, "<b>" + EF_GROUPS[0] + "</b>", 58)
ann(2140, 3142, "<b>Pb+400</b>", 58)
ann(2312, 3144, "<b>PAP</b>", 54)
shapes.append(dict(type="line", xref="paper", yref="paper", x0=PX(1869), x1=PX(2300),
                   y0=PY(3177), y1=PY(3177), line=dict(color="black", width=3)))
ann(1707, 3227, "<b>Recipient</b>", 58)
ann(1967, 3227, "<b>Pb</b>", 58)
ann(2173, 3227, "<b>Pb</b>", 58)

# panel letters
for letter, (lx, ly) in zip("ABCDEF", [(110, 90), (1365, 100), (104, 1222), (1383, 1235),
                                      (115, 2365), (1383, 2370)]):
    ann(lx, ly, "<b>" + letter + "</b>", 160)

layout["annotations"] = annotations
layout["shapes"] = shapes
fig.update_layout(**layout)
fig.write_html("out.html", config={"displayModeBar": False},
               post_script="document.body.style.margin='0px';")
